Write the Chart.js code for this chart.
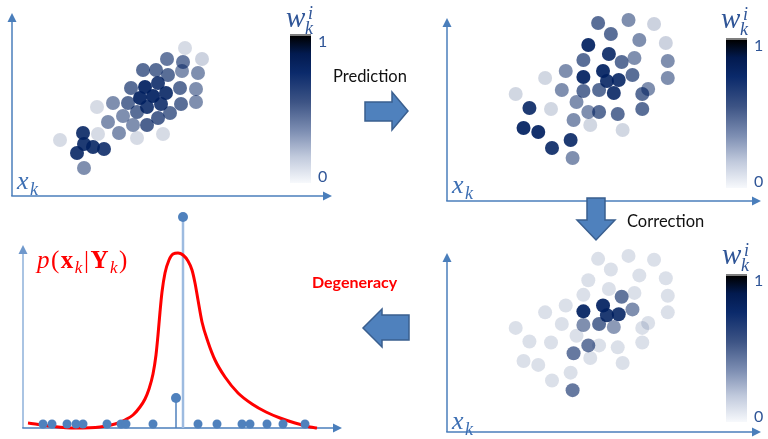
<!DOCTYPE html>
<html><head><meta charset="utf-8">
<script src="https://cdn.jsdelivr.net/npm/chart.js@4.4.0/dist/chart.umd.min.js"></script>
<style>
html,body{margin:0;padding:0;background:#fff;}
#stage{position:relative;width:768px;height:439px;overflow:hidden;background:#fff;}
canvas{position:absolute;}
.t{position:absolute;white-space:nowrap;line-height:1;}
.cb{position:absolute;background:linear-gradient(to bottom,#000 0%,#021a4f 12%,#0b2a6b 25%,#3d5485 45%,#7e8fb3 65%,#c0c9dc 82%,#f7f9fc 100%);border-top:2px solid #7f7f7f;box-sizing:border-box;}
</style></head><body>
<div id="stage">
<canvas id="c1" width="345" height="205" style="left:0;top:0"></canvas>
<canvas id="c2" width="338" height="212" style="left:430px;top:0"></canvas>
<canvas id="c3" width="338" height="199" style="left:430px;top:240px"></canvas>
<canvas id="c4" width="360" height="239" style="left:0;top:200px"></canvas>
<div class="cb" style="left:290px;top:34px;width:21px;height:149px"></div>
<div class="cb" style="left:726px;top:38px;width:21px;height:150px"></div>
<div class="cb" style="left:726px;top:274px;width:21px;height:148px"></div>
<svg width="768" height="439" style="position:absolute;left:0;top:0">
<g fill="#4f81bd" stroke="#3a5f8f" stroke-width="1.5" stroke-linejoin="miter">
<polygon points="365,102 392,102 392,92 408,111 392,130 392,121 365,121"/>
<polygon points="587,198 605,198 605,220 615,220 596,240 577,220 587,220"/>
<polygon points="409,315 382,315 382,309 363,328 382,347 382,340 409,340"/>
</g>
</svg>
</div>
<script>
// ---- data ----
// Panel 1 (prior particles): positions relative to the axes origin, and weights
const p1X = [173,190,155,171,131,144,156,170,186,119,133,146,154,168,184,128,141,85,101,116,135,149,169,184,111,125,146,158,96,121,135,86,107,125,151,48,71,72,81,92,65,72];
const p1Y = [148,137,137,134,126,126,121,125,123,108,109,113,103,108,107,98,100,89,93,93,89,92,92,94,80,84,78,83,74,71,71,62,63,58,62,56,63,52,49,47,43,28];
const p1W = [0.16,0.2,0.6,0.6,0.65,0.65,0.65,0.5,0.5,0.65,0.92,0.85,0.88,0.65,0.5,0.92,0.92,0.16,0.5,0.65,0.85,0.85,0.65,0.5,0.5,0.65,0.7,0.65,0.5,0.5,0.7,0.16,0.5,0.16,0.16,0.16,0.88,0.88,0.88,0.85,0.88,0.5];
// Panels 2 and 3 (predicted particles, same positions)
const particleX = [154,185,211,167,196,223,144,165,139,178,191,225,121,159,100,139,163,175,189,225,117,139,155,170,205,199,70,132,84,106,144,155,174,199,129,146,179,78,93,126,107,128];
const particleY = [178,181,177,167,161,158,156,147,141,139,143,140,130,130,123,124,120,121,126,123,111,110,111,108,112,107,107,99,93,92,89,89,87,92,81,76,71,73,69,61,53,43];
const predictedW = [0.65,0.5,0.2,0.65,0.5,0.2,0.92,0.88,0.65,0.65,0.5,0.5,0.5,0.92,0.18,0.92,0.88,0.88,0.65,0.5,0.5,0.65,0.65,0.88,0.5,0.65,0.18,0.5,0.88,0.18,0.5,0.65,0.65,0.65,0.5,0.18,0.18,0.92,0.92,0.88,0.88,0.5];
const correctedW = [0.14,0.14,0.14,0.14,0.14,0.14,0.14,0.14,0.14,0.62,0.14,0.14,0.14,0.92,0.14,0.92,0.88,0.88,0.5,0.14,0.14,0.5,0.65,0.45,0.14,0.14,0.14,0.14,0.14,0.14,0.6,0.14,0.14,0.14,0.6,0.14,0.14,0.14,0.14,0.14,0.14,0.6];
// Panel 4 (degenerate posterior)
const curveX = [5,27,52,77,92,102,110,117,122,126,130,133,135,137,139,142,146,150,155,160,165,169,172,175,179,185,192,202,215,229,243,257,272,287,294];
const curveY = [5,2,0,1,4,8,13,21,29,39,54,73,93,116,136,155,168,174,175,173,167,158,145,128,106,86,68,51,35,24,16,10,5,1,0];
const baseDotsX = [20,29,44,53,60,84,98,103,130,175,194,219,227,244,260,282];
const baseDotsY = [4,4,4,4,4,4,4,4,4,4,4,4,4,4,4,4];
const stemX = [160,153];
const stemTop = [211,30];

const arrowAxes = {
  id:'arrowAxes',
  beforeDatasetsDraw(chart, args, o){
    const {ctx, chartArea:{left,right,bottom}} = chart;
    const top = o.vTop !== undefined ? chart.scales.y.getPixelForValue(o.vTop) : chart.chartArea.top;
    ctx.save();
    ctx.lineWidth = 1.5;
    ctx.strokeStyle = o.vColor; ctx.fillStyle = o.vHead || o.vColor;
    ctx.beginPath(); ctx.moveTo(left, bottom); ctx.lineTo(left, top+6); ctx.stroke();
    ctx.beginPath(); ctx.moveTo(left, top); ctx.lineTo(left-4.5, top+9); ctx.lineTo(left+4.5, top+9); ctx.closePath(); ctx.fill();
    ctx.strokeStyle = o.hColor; ctx.fillStyle = o.hColor;
    ctx.beginPath(); ctx.moveTo(left-0.75, bottom); ctx.lineTo(right-6, bottom); ctx.stroke();
    ctx.beginPath(); ctx.moveTo(right, bottom); ctx.lineTo(right-9, bottom-4.5); ctx.lineTo(right-9, bottom+4.5); ctx.closePath(); ctx.fill();
    ctx.restore();
  }
};
Chart.register(arrowAxes);

const wColor = w => `rgba(0,32,96,${w})`;
const pts = (xs, ys) => xs.map((x,i)=>({x, y:ys[i]}));

function baseOptions(pad, xmax, ymax, axes){
  return {
    responsive:false, animation:false, devicePixelRatio:1, events:[],
    layout:{padding:pad},
    plugins:{legend:{display:false}, tooltip:{enabled:false}, arrowAxes:axes},
    scales:{x:{type:'linear', min:0, max:xmax, display:false}, y:{type:'linear', min:0, max:ymax, display:false}}
  };
}

function particleChart(id, xs, ys, ws, pad, xmax, ymax){
  new Chart(document.getElementById(id), {
    type:'scatter',
    data:{datasets:[{data:pts(xs,ys), backgroundColor:ws.map(wColor), borderWidth:0, pointRadius:7, pointHoverRadius:7, clip:false}]},
    options:baseOptions(pad, xmax, ymax, {vColor:'#4a7ebb', hColor:'#4a7ebb'})
  });
}

particleChart('c1', p1X, p1Y, p1W, {left:12,right:13,top:13,bottom:9}, 320, 183);
particleChart('c2', particleX, particleY, predictedW, {left:17,right:1,top:18,bottom:11}, 320, 183);
particleChart('c3', particleX, particleY, correctedW, {left:17,right:1,top:13,bottom:2}, 320, 184);

const stemSets = stemX.map((x,i)=>({
  data:[{x, y:0},{x, y:stemTop[i]}], showLine:true,
  borderColor: i===0 ? '#9dbbe0' : '#4f81bd', borderWidth: i===0 ? 2.5 : 1.5,
  pointRadius:[0,5], pointBackgroundColor:'#4f81bd', pointBorderWidth:0, clip:false
}));
new Chart(document.getElementById('c4'), {
  type:'scatter',
  data:{datasets:[
    {data:pts(baseDotsX, baseDotsY), backgroundColor:'#4f81bd', borderWidth:0, pointRadius:4.5, clip:false},
    {data:pts(curveX, curveY), showLine:true, borderColor:'#ff0000', borderWidth:3, pointRadius:0, cubicInterpolationMode:'monotone', clip:false},
    ...stemSets
  ]},
  options:baseOptions({left:23,right:18,top:10,bottom:11}, 319, 218, {vTop:183, vColor:'#8eb0da', vHead:'#6f98cc', hColor:'#4a7ebb'})
});

// ---- text labels, positioned by baseline ----
const stage = document.getElementById('stage');
function label(html, x, base, css){
  const d = document.createElement('div');
  d.className = 't';
  d.innerHTML = html + '<span style="display:inline-block;width:0;height:0"></span>';
  Object.assign(d.style, css);
  d.style.left = x + 'px';
  stage.appendChild(d);
  const m = d.lastChild;
  d.style.top = (base - m.offsetTop) + 'px';
  return d;
}
const serif = {fontFamily:'"Liberation Serif", serif', fontStyle:'italic'};
const sans = {fontFamily:'Lato, "Open Sans", sans-serif'};
const mathBlue = '#2f5597', axisBlue = '#3d6fb3';

label('Prediction', 333, 82, {...sans, fontSize:'16.5px', color:'#111'});
label('Correction', 627, 227, {...sans, fontSize:'16.5px', color:'#111'});
label('Degeneracy', 312, 288, {...sans, fontSize:'16px', fontWeight:'bold', color:'#ff0000'});

// x_k labels
[[17,189],[452,193],[452,429]].forEach(([x,b])=>{
  label('x', x, b, {...serif, fontSize:'26px', color:axisBlue});
  label('k', x+13, b+6, {...serif, fontSize:'18px', color:axisBlue});
});
// w_k^i labels
[[286,27],[721,28],[722,264]].forEach(([x,b])=>{
  label('w', x, b, {...serif, fontSize:'29px', color:mathBlue});
  label('i', x+22, b-8, {...serif, fontSize:'18px', color:mathBlue});
  label('k', x+19, b+7, {...serif, fontSize:'18px', color:mathBlue});
});
// colorbar ticks
[[318,47,182],[754,51,187],[754,286,422]].forEach(([x,b1,b0])=>{
  label('1', x, b1, {...sans, fontSize:'16px', color:mathBlue});
  label('0', x, b0, {...sans, fontSize:'16px', color:mathBlue});
});
// posterior label
label('<i>p</i>(<b>x</b><span style="font-size:17px;position:relative;top:5px"><i>k</i></span>|<b>Y</b><span style="font-size:17px;position:relative;top:5px"><i>k</i></span>)',
  37, 268, {fontFamily:'"Liberation Serif", serif', fontSize:'25px', color:'#ff0000', letterSpacing:'1.5px'});
</script>
</body></html>
